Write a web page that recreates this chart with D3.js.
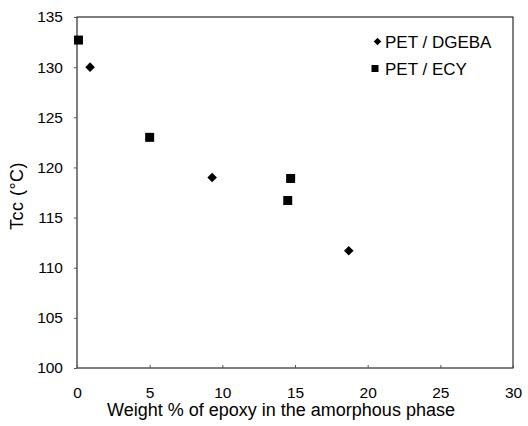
<!DOCTYPE html>
<html>
<head>
<meta charset="utf-8">
<script src="https://cdn.jsdelivr.net/npm/d3@7"></script>
<style>
  body { margin: 0; background: #fff; }
  text { font-family: "Liberation Sans", Arial, sans-serif; fill: #000; }
</style>
</head>
<body>
<div id="chart"></div>
<script>
/* data */
var dgebaX = [0.9, 9.3, 18.7];
var dgebaY = [130.0, 119.0, 111.7];
var ecyX = [0.1, 5.0, 14.5, 14.7];
var ecyY = [132.7, 123.0, 116.7, 118.9];
var xTicks = [0, 5, 10, 15, 20, 25, 30];
var yTicks = [100, 105, 110, 115, 120, 125, 130, 135];
var seriesNames = ["PET / DGEBA", "PET / ECY"];

var width = 528;
var height = 426;
var margin = { top: 17, right: 15, bottom: 58, left: 77 };
var w = width - margin.left - margin.right;
var h = height - margin.top - margin.bottom;

var svg = d3.select("#chart").append("svg")
    .attr("width", width)
    .attr("height", height);

var g = svg.append("g")
    .attr("transform", "translate(" + margin.left + "," + margin.top + ")");

var x = d3.scaleLinear().domain([0, 30]).range([0, w]);
var y = d3.scaleLinear().domain([100, 135]).range([h, 0]);

// frame
g.append("rect")
    .attr("width", w)
    .attr("height", h)
    .attr("fill", "none")
    .attr("stroke", "#000")
    .attr("stroke-width", 1);

// x axis, ticks pointing up into the plot
var xAxis = g.append("g")
    .attr("transform", "translate(0," + h + ")")
    .call(d3.axisBottom(x).tickValues(xTicks).tickSize(-3).tickPadding(19).tickSizeOuter(0));

var yAxis = g.append("g")
    .call(d3.axisLeft(y).tickValues(yTicks).tickSize(3).tickPadding(11).tickSizeOuter(0));

[xAxis, yAxis].forEach(function (a) {
    a.select(".domain").remove();
    a.selectAll("line").attr("stroke", "#555");
    a.selectAll("text")
        .style("font-family", "Liberation Sans, Arial, sans-serif")
        .style("font-size", "15.5px")
        .attr("fill", "#000");
});

// axis titles
svg.append("text")
    .attr("x", 281)
    .attr("y", 416)
    .attr("text-anchor", "middle")
    .style("font-size", "18px")
    .text("Weight % of epoxy in the amorphous phase");

svg.append("text")
    .attr("transform", "translate(23,196) rotate(-90)")
    .attr("text-anchor", "middle")
    .style("font-size", "18px")
    .style("letter-spacing", "0.5px")
    .text("Tcc (°C)");

var diamond = d3.symbol().type(d3.symbolDiamond2);
var square = d3.symbol().type(d3.symbolSquare);

// PET / DGEBA
g.selectAll(".dgeba")
    .data(dgebaX)
    .enter().append("path")
    .attr("class", "dgeba")
    .attr("d", diamond.size(58)())
    .attr("transform", function (d, i) { return "translate(" + x(d) + "," + y(dgebaY[i]) + ")"; })
    .attr("fill", "#000");

// PET / ECY
g.selectAll(".ecy")
    .data(ecyX)
    .enter().append("path")
    .attr("class", "ecy")
    .attr("d", square.size(81)())
    .attr("transform", function (d, i) { return "translate(" + x(d) + "," + y(ecyY[i]) + ")"; })
    .attr("fill", "#000");

// legend
var legend = svg.append("g");
var legendRows = [
    { name: seriesNames[0], shape: diamond.size(36)(), mx: 377.5, my: 41.5 },
    { name: seriesNames[1], shape: square.size(49)(), mx: 375, my: 68.5 }
];
legendRows.forEach(function (r) {
    legend.append("path")
        .attr("d", r.shape)
        .attr("transform", "translate(" + r.mx + "," + r.my + ")")
        .attr("fill", "#000");
    legend.append("text")
        .attr("x", 385)
        .attr("y", r.my + 6)
        .style("font-size", "17px")
        .text(r.name);
});
</script>
</body>
</html>
